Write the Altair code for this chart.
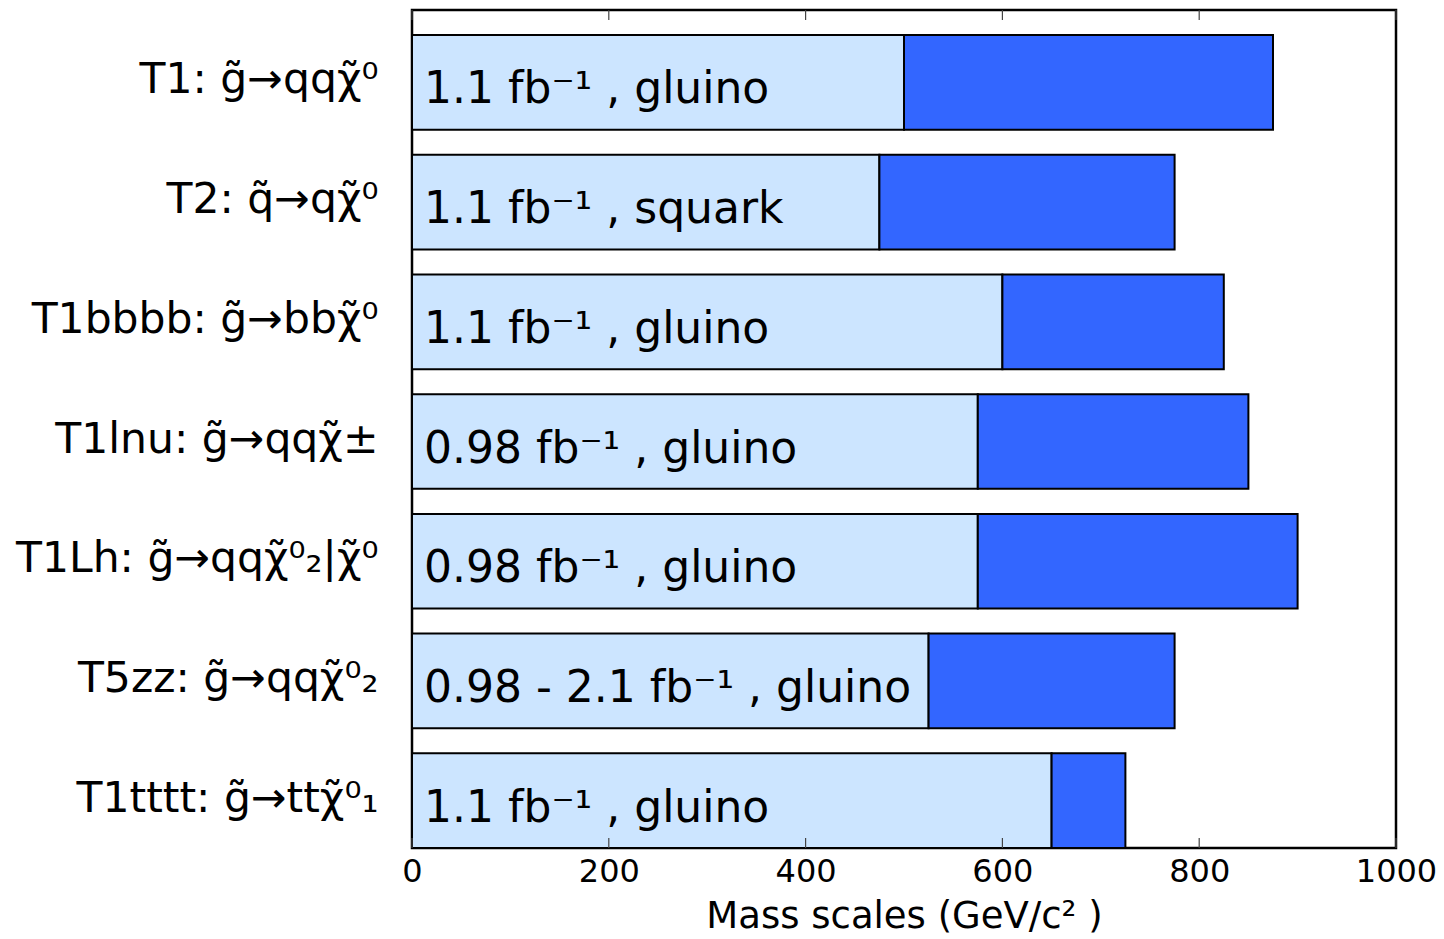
import altair as alt
import pandas as pd

# Simplified-model names with their decay chains
models = [
    "T1: g\u0303\u2192qq\u03c7\u0303\u2070",
    "T2: q\u0303\u2192q\u03c7\u0303\u2070",
    "T1bbbb: g\u0303\u2192bb\u03c7\u0303\u2070",
    "T1lnu: g\u0303\u2192qq\u03c7\u0303\u00b1",
    "T1Lh: g\u0303\u2192qq\u03c7\u0303\u2070\u2082|\u03c7\u0303\u2070",
    "T5zz: g\u0303\u2192qq\u03c7\u0303\u2070\u2082",
    "T1tttt: g\u0303\u2192tt\u03c7\u0303\u2070\u2081",
]
# Luminosity / particle annotation inside each bar
notes = [
    "1.1 fb\u207b\u00b9 , gluino",
    "1.1 fb\u207b\u00b9 , squark",
    "1.1 fb\u207b\u00b9 , gluino",
    "0.98 fb\u207b\u00b9 , gluino",
    "0.98 fb\u207b\u00b9 , gluino",
    "0.98 - 2.1 fb\u207b\u00b9 , gluino",
    "1.1 fb\u207b\u00b9 , gluino",
]
# Mass reach (GeV/c^2): conservative and best-case limits
mass_low = [500, 475, 600, 575, 575, 525, 650]
mass_high = [875, 775, 825, 850, 900, 775, 725]
# Axis ticks
tick_values = [0, 200, 400, 600, 800, 1000]

df = pd.DataFrame({"model": models, "note": notes, "low": mass_low, "high": mass_high})
ticks = pd.DataFrame({"t": tick_values})

W, H = 984, 838
LIGHT = "#cce5ff"
DARK = "#3366ff"

x_scale = alt.Scale(domain=[0, 1000], nice=False, zero=True)
y_enc = alt.Y(
    "model:N",
    sort=models,
    scale=alt.Scale(paddingInner=0.209, paddingOuter=0.1045, align=1),
    axis=alt.Axis(
        title=None,
        domain=False,
        ticks=False,
        labelFont="DejaVu Sans",
        labelFontSize=42.5,
        labelColor="black",
        labelPadding=34,
        labelLimit=600,
        labelOffset=-2,
    ),
)

base = alt.Chart(df)

light = base.mark_bar(color=LIGHT, stroke="black", strokeWidth=2).encode(
    x=alt.X(
        "zero:Q",
        scale=x_scale,
        axis=alt.Axis(
            values=tick_values,
            format="d",
            title="Mass scales (GeV/c\u00b2 )",
            domain=False,
            ticks=False,
            grid=False,
            labelFont="DejaVu Sans",
            labelFontSize=32,
            labelColor="black",
            labelPadding=8,
            labelFlush=False,
            titleFont="DejaVu Sans",
            titleFontSize=37,
            titleFontWeight="normal",
            titleColor="black",
            titlePadding=11,
        ),
    ),
    x2="low:Q",
    y=y_enc,
).transform_calculate(zero="0")

dark = base.mark_bar(color=DARK, stroke="black", strokeWidth=2).encode(
    x=alt.X("low:Q", scale=x_scale),
    x2="high:Q",
    y=alt.Y("model:N", sort=models),
)

labels = base.mark_text(
    align="left", baseline="alphabetic", dx=12, dy=21,
    font="DejaVu Sans", fontSize=44, color="black",
).encode(
    x=alt.datum(0),
    y=alt.Y("model:N", sort=models),
    text="note:N",
)

tick_base = alt.Chart(ticks).mark_rule(color="#444444", strokeWidth=1.2)
top_ticks = tick_base.encode(x=alt.X("t:Q", scale=x_scale), y=alt.value(0), y2=alt.value(10))
bottom_ticks = tick_base.encode(x=alt.X("t:Q", scale=x_scale), y=alt.value(H - 10), y2=alt.value(H))

chart = (
    alt.layer(light, dark, labels, top_ticks, bottom_ticks)
    .properties(
        width=W,
        height=H,
        autosize=alt.AutoSizeParams(type="none"),
        padding={"left": 412, "top": 10, "right": 48, "bottom": 91},
        background="white",
    )
    .configure_view(stroke="black", strokeWidth=2.5)
)

chart.save("out.html", embed_options={"renderer": "svg", "actions": False})
